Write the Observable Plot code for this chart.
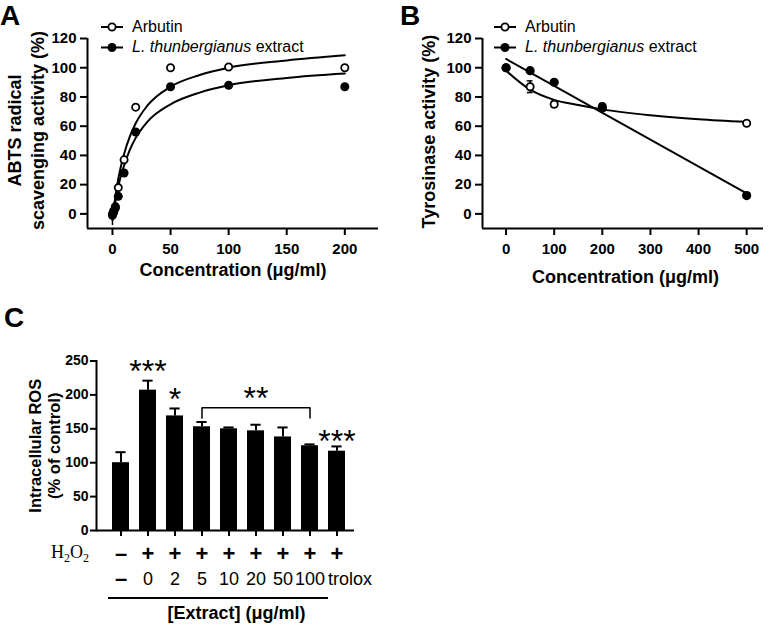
<!DOCTYPE html>
<html><head><meta charset="utf-8">
<script src="https://cdn.jsdelivr.net/npm/d3@7"></script>
<script src="https://cdn.jsdelivr.net/npm/@observablehq/plot@0.6"></script>
<style>
html,body{margin:0;padding:0;background:#fff;}
#wrap{position:relative;width:772px;height:629px;overflow:hidden;background:#fff;}
.panel{position:absolute;}
#ov{position:absolute;left:0;top:0;pointer-events:none;}
</style></head><body>
<div id="wrap">
  <div id="pa" class="panel" style="left:0;top:0;width:386px;height:300px"></div>
  <div id="pb" class="panel" style="left:386px;top:0;width:386px;height:300px"></div>
  <div id="pc" class="panel" style="left:0;top:320px;width:400px;height:309px"></div>
  <svg id="ov" width="772" height="629" font-family="'Liberation Sans', Arial, sans-serif"></svg>
</div>
<script>
// ---------- Panel A: ABTS radical scavenging ----------
const abtsConc        = [0, 1, 2.5, 5, 10, 20, 50, 100, 200];
const abtsArbutin     = [0, 2, 5, 18, 37, 73, 100, 100.5, 100];
const abtsArbutinErr  = [3, 1, 1, 1, 1, 1, 1, 1, 1];
const abtsExtract     = [-1, 1, 4, 12, 28, 56, 87, 88, 87];
const abtsExtractErr  = [7, 2, 1, 1, 1, 1, 1, 1, 1];
const abtsFitConc     = [0, 2, 5, 10, 15, 20, 30, 50, 75, 100, 150, 200];
const abtsFitArbutin  = [-4, 9, 24, 41, 53, 62, 74, 87, 95, 100, 105, 108.5];
const abtsFitExtract  = [-4, 6, 19, 33, 44, 52, 63, 75, 83, 88, 93, 96];
const abtsXTicks = [0, 50, 100, 150, 200];
const abtsYTicks = [0, 20, 40, 60, 80, 100, 120];

// ---------- Panel B: Tyrosinase activity ----------
const tyrConc          = [0, 50, 100, 200, 500];
const tyrArbutin       = [100, 87, 75, 73.5, 62];
const tyrArbutinErr    = [1, 4, 2, 2, 1];
const tyrExtract       = [100, 98, 90, 72.5, 12.5];
const tyrExtractErr    = [1, 1, 1, 2, 1];
const tyrFitArbConc    = [0, 50, 100, 150, 200, 300, 400, 500];
const tyrFitArbutin    = [98, 85, 78, 74.5, 71.5, 67.5, 64.8, 63];
const tyrFitExtConc    = [0, 500];
const tyrFitExtract    = [106, 14];
const tyrXTicks = [0, 100, 200, 300, 400, 500];
const tyrYTicks = [0, 20, 40, 60, 80, 100, 120];

// ---------- Panel C: Intracellular ROS ----------
const rosGroups  = ["–", "0", "2", "5", "10", "20", "50", "100", "trolox"];
const rosH2O2    = ["–", "+", "+", "+", "+", "+", "+", "+", "+"];
const rosMean    = [100, 207, 169, 153, 150, 147, 138, 125, 117];
const rosErr     = [15.5, 14, 11, 7, 2, 9, 14, 2, 7];
const rosYTicks  = [0, 50, 100, 150, 200, 250];
const sigGroups  = ["0", "2", "20", "trolox"];
const sigLabels  = ["***", "*", "**", "***"];
const sigY       = [241, 200.5, 202, 137.5];
const bracketGroups = ["5", "5", "100", "100"];
const bracketY      = [166, 181, 181, 166];

const FONT = "'Liberation Sans', Arial, Helvetica, sans-serif";

// ---------- build A ----------
const ptsA = abtsConc.map((c, i) => ({c, arb: abtsArbutin[i], arbErr: abtsArbutinErr[i], ext: abtsExtract[i], extErr: abtsExtractErr[i]}));
const fitA = abtsFitConc.map((c, i) => ({c, arb: abtsFitArbutin[i], ext: abtsFitExtract[i]}));
const xDomA = [-21.5, 229], yDomA = [-10, 120];

const plotA = Plot.plot({
  width: 386, height: 300,
  marginLeft: 87, marginRight: 8, marginTop: 38, marginBottom: 72,
  x: {domain: xDomA},
  y: {domain: yDomA},
  style: {fontFamily: FONT, fontWeight: "bold", fontSize: "15px", background: "transparent", color: "black"},
  marks: [
    Plot.ruleX([xDomA[0]], {strokeWidth: 2}),
    Plot.ruleY([yDomA[0]], {strokeWidth: 2}),
    Plot.axisY({ticks: abtsYTicks, tickSize: 7, tickPadding: 4, fontSize: 15, strokeWidth: 2, label: null}),
    Plot.axisX({ticks: abtsXTicks, tickSize: 7, tickPadding: 8, fontSize: 15, strokeWidth: 2, label: null}),
    Plot.text(["ABTS radical"], {frameAnchor: "left", textAnchor: "middle", rotate: -90, dx: -72, dy: -3, fontSize: 18, lineAnchor: "middle"}),
    Plot.text(["scavenging activity (%)"], {frameAnchor: "left", textAnchor: "middle", rotate: -90, dx: -49, dy: -3, fontSize: 18, lineAnchor: "middle"}),
    Plot.text(["Concentration (μg/ml)"], {frameAnchor: "bottom", lineAnchor: "bottom", dy: 47, fontSize: 18}),
    Plot.line(fitA, {x: "c", y: "arb", curve: "monotone-x", strokeWidth: 2}),
    Plot.line(fitA, {x: "c", y: "ext", curve: "monotone-x", strokeWidth: 2}),
    Plot.ruleX(ptsA, {x: "c", y1: d => d.arb - d.arbErr, y2: d => d.arb + d.arbErr, strokeWidth: 1.5}),
    Plot.ruleX(ptsA, {x: "c", y1: d => d.ext - d.extErr, y2: d => d.ext + d.extErr, strokeWidth: 1.5}),
    Plot.dot(ptsA, {x: "c", y: "arb", r: 3.6, stroke: "black", strokeWidth: 1.8, fill: "white"}),
    Plot.dot(ptsA, {x: "c", y: "ext", r: 4.5, fill: "black"})
  ]
});
document.getElementById("pa").appendChild(plotA);

// ---------- build B ----------
const ptsB = tyrConc.map((c, i) => ({c, arb: tyrArbutin[i], arbErr: tyrArbutinErr[i], ext: tyrExtract[i], extErr: tyrExtractErr[i]}));
const fitBArb = tyrFitArbConc.map((c, i) => ({c, y: tyrFitArbutin[i]}));
const fitBExt = tyrFitExtConc.map((c, i) => ({c, y: tyrFitExtract[i]}));
const xDomB = [-49, 535], yDomB = [-10, 120];

const plotB = Plot.plot({
  width: 386, height: 300,
  marginLeft: 96, marginRight: 9, marginTop: 38, marginBottom: 72,
  x: {domain: xDomB},
  y: {domain: yDomB},
  style: {fontFamily: FONT, fontWeight: "bold", fontSize: "15px", background: "transparent", color: "black"},
  marks: [
    Plot.ruleX([xDomB[0]], {strokeWidth: 2}),
    Plot.ruleY([yDomB[0]], {strokeWidth: 2}),
    Plot.axisY({ticks: tyrYTicks, tickSize: 7, tickPadding: 4, fontSize: 15, strokeWidth: 2, label: null}),
    Plot.axisX({ticks: tyrXTicks, tickSize: 7, tickPadding: 8, fontSize: 15, strokeWidth: 2, label: null}),
    Plot.text(["Tyrosinase activity (%)"], {frameAnchor: "left", textAnchor: "middle", rotate: -90, dx: -53, dy: -2, fontSize: 18, lineAnchor: "middle"}),
    Plot.text(["Concentration (μg/ml)"], {frameAnchor: "bottom", lineAnchor: "bottom", dy: 54, dx: 2.5, fontSize: 18}),
    Plot.line(fitBArb, {x: "c", y: "y", curve: "monotone-x", strokeWidth: 2}),
    Plot.line(fitBExt, {x: "c", y: "y", strokeWidth: 2}),
    Plot.ruleX(ptsB, {x: "c", y1: d => d.arb - d.arbErr, y2: d => d.arb + d.arbErr, strokeWidth: 1.5}),
    Plot.ruleY(ptsB, {y: d => d.arb + d.arbErr, x1: d => d.c - 6, x2: d => d.c + 6, strokeWidth: 1.5}),
    Plot.ruleY(ptsB, {y: d => d.arb - d.arbErr, x1: d => d.c - 6, x2: d => d.c + 6, strokeWidth: 1.5}),
    Plot.ruleX(ptsB, {x: "c", y1: d => d.ext - d.extErr, y2: d => d.ext + d.extErr, strokeWidth: 1.5}),
    Plot.dot(ptsB, {x: "c", y: "arb", r: 3.6, stroke: "black", strokeWidth: 1.8, fill: "white"}),
    Plot.dot(ptsB, {x: "c", y: "ext", r: 4.6, fill: "black"})
  ]
});
document.getElementById("pb").appendChild(plotB);

// ---------- build C ----------
const rosData = rosGroups.map((g, i) => ({g, mean: rosMean[i], top: rosMean[i] + rosErr[i], h: rosH2O2[i]}));
const sigData = sigGroups.map((g, i) => ({g, t: sigLabels[i], y: sigY[i]}));
const bracketData = bracketGroups.map((g, i) => ({g, y: bracketY[i]}));
const last = rosData.length - 1;

const plotC = Plot.plot({
  width: 400, height: 309,
  marginLeft: 96, marginRight: 46, marginTop: 40.5, marginBottom: 99,
  x: {type: "band", domain: rosGroups, paddingInner: 0.388, paddingOuter: 0.42, align: 0.61},
  y: {domain: [0, 250]},
  style: {fontFamily: FONT, fontWeight: "bold", fontSize: "14px", background: "transparent", color: "black"},
  marks: [
    Plot.ruleX(rosData, {x: "g", y1: "mean", y2: "top", strokeWidth: 2}),
    Plot.tickY(rosData, {x: "g", y: "top", strokeWidth: 2, insetLeft: 3.4, insetRight: 3.4}),
    Plot.barY(rosData, {x: "g", y: "mean", fill: "black"}),
    Plot.frame({anchor: "left", strokeWidth: 2}),
    Plot.ruleY([0], {strokeWidth: 2}),
    Plot.axisY({ticks: rosYTicks, tickSize: 6, tickPadding: 2, fontSize: 14, strokeWidth: 2, label: null}),
    Plot.axisX({tickSize: 6, tickFormat: () => "", strokeWidth: 2, label: null}),
    Plot.text(["Intracellular ROS"], {frameAnchor: "left", textAnchor: "middle", rotate: -90, dx: -61, fontSize: 16.5, lineAnchor: "middle"}),
    Plot.text(["(% of control)"], {frameAnchor: "left", textAnchor: "middle", rotate: -90, dx: -42, fontSize: 16.5, lineAnchor: "middle"}),
    Plot.text(rosData, {x: "g", text: "h", frameAnchor: "bottom", dy: 23, fontSize: 22, lineAnchor: "middle"}),
    Plot.text(rosData.slice(0, 1), {x: "g", text: "g", frameAnchor: "bottom", dy: 48.5, fontSize: 22, lineAnchor: "middle"}),
    Plot.text(rosData.slice(1, last), {x: "g", text: "g", frameAnchor: "bottom", dy: 48.5, fontSize: 18, fontWeight: "normal", lineAnchor: "middle"}),
    Plot.text(rosData.slice(last), {x: "g", text: "g", frameAnchor: "bottom", dy: 48.5, dx: 13, fontSize: 18, fontWeight: "normal", lineAnchor: "middle"}),
    Plot.text(["[Extract] (μg/ml)"], {frameAnchor: "bottom", lineAnchor: "bottom", dy: 88, dx: 11, fontSize: 18}),
    Plot.line(bracketData, {x: "g", y: "y", strokeWidth: 1.5}),
    Plot.text(sigData, {x: "g", y: "y", text: "t", fontSize: 32, fontWeight: "normal", lineAnchor: "bottom", dy: 15})
  ]
});
document.getElementById("pc").appendChild(plotC);

// ---------- overlay: panel letters, legends, H2O2 label, underline ----------
const ov = d3.select("#ov");
const panelLetters = [["A", 0, 25], ["B", 400, 25], ["C", 4, 327]];
panelLetters.forEach(([t, x, y]) => ov.append("text").attr("x", x).attr("y", y).attr("font-size", 28).attr("font-weight", "bold").text(t));

const legendNames = ["Arbutin", "extract"];
function legend(x0) {
  ov.append("line").attr("x1", x0).attr("x2", x0 + 22).attr("y1", 27).attr("y2", 27).attr("stroke", "black").attr("stroke-width", 2);
  ov.append("circle").attr("cx", x0 + 11).attr("cy", 27).attr("r", 3.6).attr("fill", "white").attr("stroke", "black").attr("stroke-width", 1.8);
  ov.append("text").attr("x", x0 + 31).attr("y", 32).attr("font-size", 16).text(legendNames[0]);
  ov.append("line").attr("x1", x0).attr("x2", x0 + 22).attr("y1", 47.5).attr("y2", 47.5).attr("stroke", "black").attr("stroke-width", 2);
  ov.append("circle").attr("cx", x0 + 11).attr("cy", 47.5).attr("r", 4.5).attr("fill", "black");
  const t = ov.append("text").attr("x", x0 + 31).attr("y", 52).attr("font-size", 16);
  t.append("tspan").attr("font-style", "italic").text("L. thunbergianus");
  t.append("tspan").text(" " + legendNames[1]);
}
legend(101);
legend(494);

const h = ov.append("text").attr("x", 51).attr("y", 558).attr("font-family", "'Liberation Serif', 'Times New Roman', serif").attr("font-size", 18);
h.append("tspan").text("H");
h.append("tspan").attr("font-size", 12).attr("dy", 4).text("2");
h.append("tspan").attr("dy", -4).text("O");
h.append("tspan").attr("font-size", 12).attr("dy", 4).text("2");

ov.append("line").attr("x1", 108).attr("x2", 328).attr("y1", 598).attr("y2", 598).attr("stroke", "black").attr("stroke-width", 2);
</script>
</body></html>
